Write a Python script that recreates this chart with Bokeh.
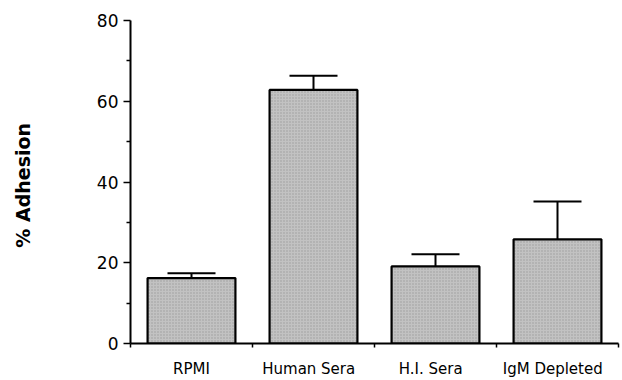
from bokeh.plotting import figure
from bokeh.models import ColumnDataSource, FixedTicker, Range1d, Whisker, TeeHead
from bokeh.embed import file_html
from bokeh.resources import INLINE

# ---- data ----
categories = ["RPMI", "Human   Sera", "H.I.   Sera", "IgM   Depleted"]
adhesion = [16.2, 62.8, 19.1, 25.8]      # % adhesion (bar height)
error_up = [1.2, 3.5, 3.0, 9.4]          # upper error bar
y_ticks = [0, 20, 40, 60, 80]
y_minor = [10, 30, 50, 70]

n = len(categories)
centers = [i + 0.5 for i in range(n)]
bounds = list(range(n + 1))
tops = [a + e for a, e in zip(adhesion, error_up)]

src = ColumnDataSource(dict(x=centers, top=adhesion, upper=tops, lower=adhesion))

FONT = "DejaVu Sans"

p = figure(width=620, height=380, output_backend="svg", toolbar_location=None,
           x_range=Range1d(0, n), y_range=Range1d(0, 80),
           min_border_left=130, min_border_right=2, min_border_top=20,
           min_border_bottom=34)
p.outline_line_color = None
p.xgrid.visible = False
p.ygrid.visible = False
p.background_fill_color = "white"
p.border_fill_color = "white"

p.vbar(x="x", top="top", width=0.72, bottom=0, source=src,
       fill_color="#c2c2c2", line_color="black", line_width=2.2,
       hatch_pattern="dot", hatch_color="#555555", hatch_alpha=0.35, hatch_scale=3)

w = Whisker(base="x", upper="upper", lower="lower", source=src,
            line_color="black", line_width=2,
            upper_head=TeeHead(size=48, line_color="black", line_width=2),
            lower_head=None)
p.add_layout(w)

# y axis
ya = p.yaxis[0]
ya.ticker = FixedTicker(ticks=y_ticks, minor_ticks=y_minor)
ya.axis_line_width = 2
ya.major_tick_line_width = 1.5
ya.minor_tick_line_width = 1.5
ya.major_tick_out = 7
ya.major_tick_in = 0
ya.minor_tick_out = 4
ya.minor_tick_in = 0
ya.major_label_standoff = 5
ya.major_label_text_font = FONT
ya.major_label_text_font_size = "17px"
ya.major_label_text_color = "black"
ya.axis_label = "%  Adhesion"
ya.axis_label_text_font = FONT
ya.axis_label_text_font_style = "bold"
ya.axis_label_text_font_size = "19px"
ya.axis_label_text_color = "black"
ya.axis_label_standoff = 60

# x axis: labels at category centres, small ticks at category boundaries
xa = p.xaxis[0]
xa.ticker = FixedTicker(ticks=centers, minor_ticks=bounds)
xa.major_label_overrides = {c: lab for c, lab in zip(centers, categories)}
xa.axis_line_width = 2
xa.major_tick_out = 0
xa.major_tick_in = 0
xa.minor_tick_out = 4
xa.minor_tick_in = 0
xa.minor_tick_line_width = 1.5
xa.major_label_standoff = 12
xa.major_label_text_font = FONT
xa.major_label_text_font_size = "15px"
xa.major_label_text_color = "black"

open("out.html", "w").write(file_html(p, INLINE))
